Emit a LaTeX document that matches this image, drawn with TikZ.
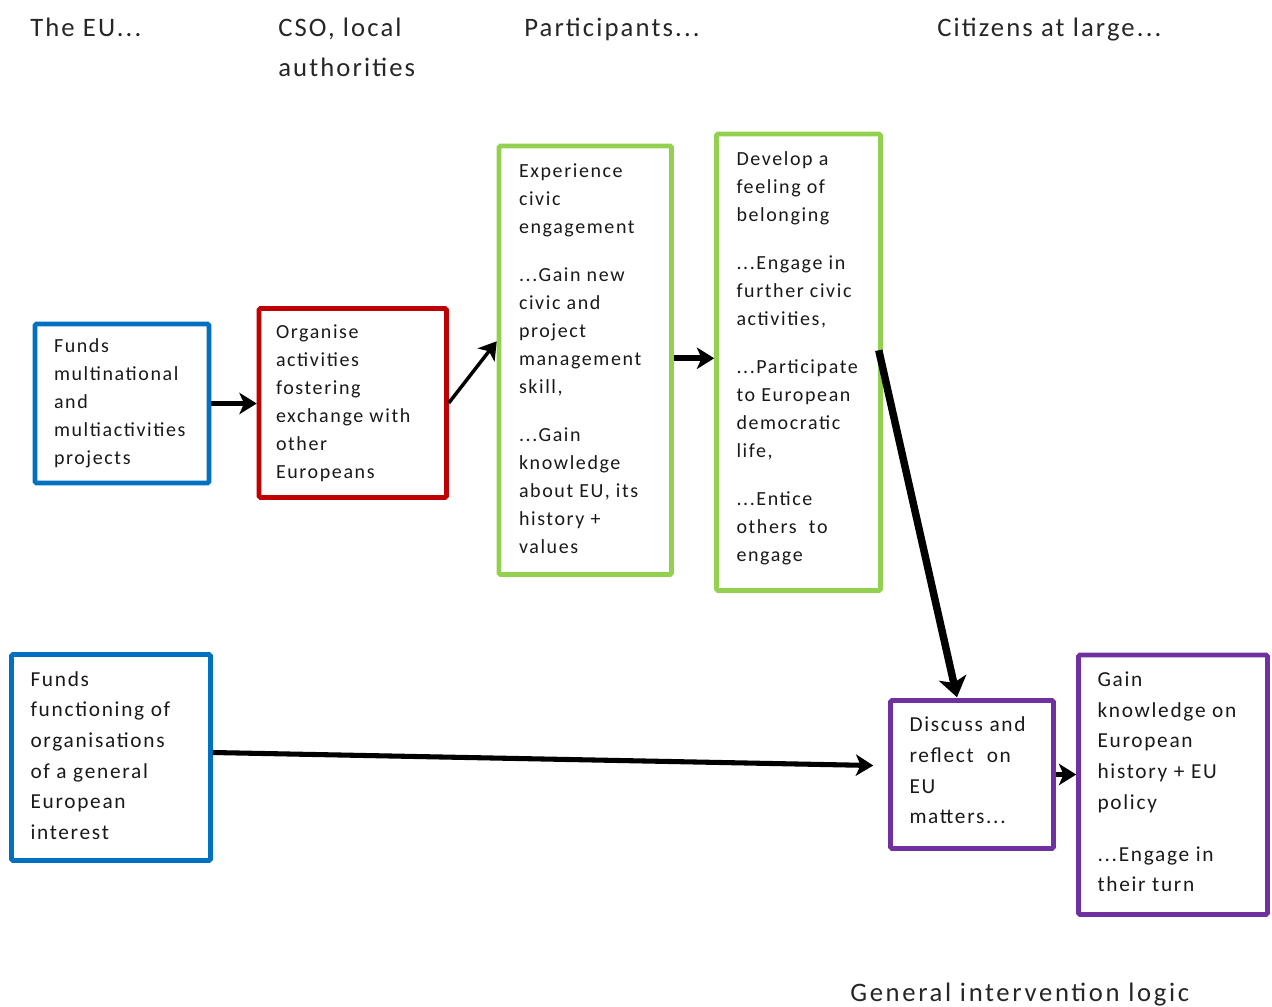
\documentclass[tikz,border=0pt]{standalone}
\usepackage{fontspec}
\setmainfont{Carlito}[LetterSpace=8]
\newfontfamily\titlefont{Carlito}[LetterSpace=10]
\usetikzlibrary{arrows.meta,calc}
\definecolor{euBlue}{HTML}{0070C0}
\definecolor{euRed}{HTML}{C00000}
\definecolor{euGreen}{HTML}{92D050}
\definecolor{euPurple}{HTML}{7030A0}
\begin{document}
\begin{tikzpicture}[x=0.75pt,y=-0.75pt,
  bx/.style n args={3}{draw=#1, line width=3.4pt, rounded corners=1pt, minimum width=#2*0.75pt, minimum height=#3*0.75pt, inner sep=0pt},
  txt/.style={anchor=west, inner sep=0pt, align=left, text=black!90, font=\fontsize{15}{21}\selectfont},
  txtb/.style={anchor=west, inner sep=0pt, align=left, text=black!90, font=\fontsize{16}{23}\selectfont},
  hdr/.style={anchor=base west, inner sep=0pt, align=left, text=black!85, font=\fontsize{20}{30}\selectfont},
  arr/.style={line width=#1, -{Stealth[length=13pt,width=16pt,inset=3.5pt]}},
  arr/.default=4.3pt]
\useasboundingbox (0,0) rectangle (1272,1007);
% headers
\node[hdr] (h1) at (30,36) {The EU...};
\node[hdr] (h2) at (278,36) {CSO, local};
\node[hdr] (h2b) at (278,76) {authorities};
\node[hdr] (h3) at (524,36) {Participants...};
\node[hdr] (h4) at (937,36) {Citizens at large...};
\node[hdr, font=\titlefont\fontsize{20}{24}\selectfont] (title) at (850,1001) {General intervention logic};
% boxes
\node[bx={euBlue}{174}{159}] (A) at (122,403.5) {};
\node[bx={euRed}{187.5}{189}] (B) at (352.75,403) {};
\node[bx={euGreen}{172.5}{428.5}] (C) at (585.25,360.25) {};
\node[bx={euGreen}{164}{456.5}] (D) at (798.5,362.25) {};
\node[bx={euBlue}{199}{206}] (E) at (111,757.5) {};
\node[bx={euPurple}{163}{148}] (F) at (972,774.5) {};
\node[bx={euPurple}{189}{259.5}] (G) at (1173,784.75) {};
% texts
\node[txt] (At) at ($(A.west)+(21,0)$) {Funds\\multinational\\and\\multiactivities\\projects};
\node[txt] (Bt) at ($(B.west)+(19,0)$) {Organise\\activities\\fostering\\exchange with\\other\\Europeans};
\node[txt] (Ct) at ($(C.west)+(22,-2)$) {Experience\\civic\\engagement\\[15pt]...Gain new\\civic and\\project\\management\\skill,\\[15pt]...Gain\\knowledge\\about EU, its\\history +\\values};
\node[txt] (Dt) at ($(D.west)+(22,-4)$) {Develop a\\feeling of\\belonging\\[15pt]...Engage in\\further civic\\activities,\\[15pt]...Participate\\to European\\democratic\\life,\\[15pt]...Entice\\others\ \ to\\engage};
\node[txtb] (Et) at ($(E.west)+(21,-2)$) {Funds\\functioning of\\organisations\\of a general\\European\\interest};
\node[txtb] (Ft) at ($(F.west)+(21,-4)$) {Discuss and\\reflect\ \ on\\EU\\matters...};
\node[txtb] (Gt) at ($(G.west)+(21,-3)$) {Gain\\knowledge on\\European\\history + EU\\policy\\[16pt]...Engage in\\their turn};
% arrows
\draw[arr] (A.east) -- (B.west |- A.east);
\draw[arr=2.6pt] (B.east) -- ($(C.west)+(0,-19)$);
\draw[arr] ($(C.east)+(0,-2)$) -- ($(D.west)+(0,-4)$);
\draw[line width=5.6pt, -{Stealth[length=15pt,width=21pt,inset=4pt]}] ($(D.east)+(-4,-12)$) -- ($(F.north)+(-15,-1)$);
\coordinate (Etip) at ($(F.west)+(-15,-9)$);
\draw[arr=3.8pt] ($(E.east)+(0,-5)$) -- (Etip);
\draw[arr] (F.east) -- (G.west |- F.east);
\end{tikzpicture}
\end{document}
